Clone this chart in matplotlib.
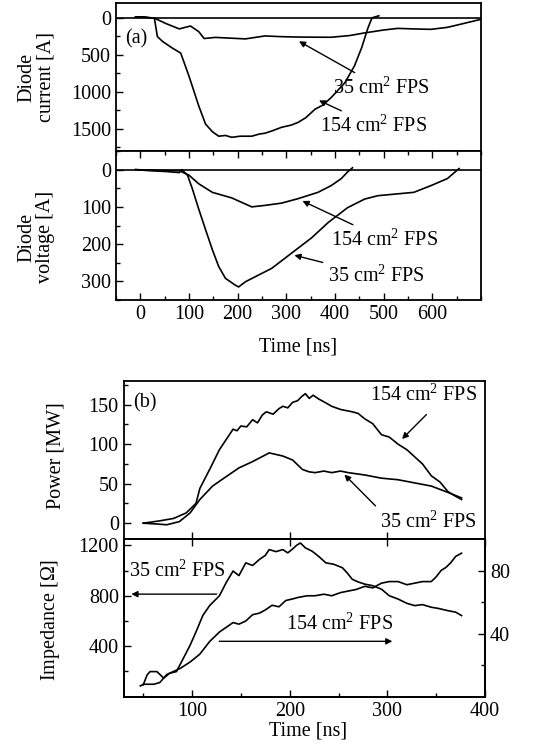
import numpy as np
import matplotlib
matplotlib.use("Agg")
from matplotlib import pyplot as plt
from matplotlib.ticker import MultipleLocator, FixedLocator

plt.rcParams['font.family'] = ['Liberation Serif', 'DejaVu Serif']
plt.rcParams['mathtext.fontset'] = 'custom'
plt.rcParams['mathtext.rm'] = 'Liberation Serif'
plt.rcParams['font.size'] = 14.5

# ---- panel (a): diode current [A]
t_i35 = [-10, 5, 29, 52, 80, 103, 120, 131, 154, 185, 216, 256, 290, 324, 360, 392,
         430, 460, 500, 529, 560, 597, 630, 651, 675, 700]
i35 = [-10, -13, 5, 76, 150, 111, 187, 280, 265, 275, 285, 245, 255, 260, 262, 263,
       240, 205, 165, 143, 150, 156, 130, 98, 60, 20]
t_i154 = [-10, 5, 29, 35, 46, 66, 83, 100, 120, 134, 148, 161, 175, 188, 205, 229, 245, 256, 270, 290,
          310, 324, 340, 359, 375, 392, 420, 440, 455, 467, 476, 490]
i154 = [-10, -13, 9, 254, 321, 410, 477, 789, 1190, 1436, 1539, 1600, 1590, 1615, 1600, 1600, 1570, 1560, 1530, 1480,
        1450, 1414, 1350, 1235, 1180, 1079, 880, 650, 400, 150, 0, -27]

# ---- panel (a): diode voltage
t_v154 = [-10, 40, 80, 100, 120, 148, 188, 229, 256, 290, 324, 365, 392, 413, 426, 436]
v154 = [0, 2, 3, 15, 38, 61, 76, 100, 96, 90, 78, 61, 43, 24, 6, -5]
t_v35 = [-10, 20, 52, 80, 85, 97, 107, 120, 134, 148, 161, 175, 195, 202, 216, 243,
         270, 311, 352, 386, 426, 461, 488, 529, 562, 597, 631, 655]
v35 = [0, 3, 5, 8, 0, 15, 52, 106, 161, 215, 260, 292, 310, 315, 301, 283,
       265, 224, 183, 142, 102, 79, 70, 65, 61, 43, 24, -3]

# ---- panel (b): power [MW]
t_p154 = [50, 67, 81, 94, 104, 108, 118, 128, 142, 146, 150, 156, 162, 167, 172, 176, 183, 189, 193, 198, 203,
          208, 212, 216, 220, 224, 230, 236, 243, 252, 264, 270, 277, 285, 294, 302, 311, 320, 328, 336, 345, 354, 362, 370, 376]
p154 = [0, 3, 6, 13, 25, 44, 68, 93, 119, 117, 123, 122, 131, 127, 137, 141, 138, 145, 148, 146, 153,
        155, 160, 164, 158, 162, 157, 153, 148, 144, 141, 139, 132, 126, 112, 109, 100, 93, 84, 75, 60, 52, 40, 34, 30]
t_p35 = [50, 64, 74, 87, 98, 108, 121, 135, 148, 162, 176, 179, 193, 203, 213, 220, 226, 235,
         243, 252, 260, 277, 294, 311, 328, 345, 362, 376]
p35 = [0, -1, -2, 2, 13, 30, 47, 59, 70, 78, 87, 89, 85, 80, 68, 65, 64, 66,
       64, 66, 64, 61, 57, 55, 51, 47, 39, 32]

# ---- panel (b): impedance, 35 cm2 on left axis [Ohm], 154 cm2 on right axis
t_z35 = [50, 54, 57, 64, 71, 77, 84, 91, 98, 104, 111, 118, 128, 135, 142, 148, 155,
         162, 169, 175, 179, 186, 193, 198, 203, 207, 211, 216, 223, 230, 237, 245, 254, 259, 264,
         270, 277, 285, 294, 302, 311, 320, 328, 336, 345, 352, 362, 370, 376]
z35 = [94, 173, 199, 199, 147, 186, 199, 303, 408, 513, 643, 722, 800, 905, 996, 960, 1061,
       1040, 1088, 1120, 1166, 1150, 1166, 1140, 1171, 1200, 1218, 1180, 1153, 1110, 1061, 1050, 1022, 980, 931,
       910, 892, 880, 852, 800, 774, 740, 722, 730, 709, 700, 682, 670, 643]
t_z154 = [47, 50, 61, 67, 74, 81, 88, 98, 108, 118, 128, 135, 142, 148, 155, 162, 169, 175, 182, 189, 196,
          203, 209, 218, 226, 235, 243, 252, 260, 268, 277, 285, 294, 302, 311, 320, 328, 336, 345, 350,
          355, 360, 365, 370, 376]
z154 = [6.8, 7.9, 7.9, 9, 14, 16, 18, 22, 27, 35, 41, 44, 47, 46, 48, 52, 53, 55, 58, 57, 61,
        62, 63, 64, 64, 65, 64, 66, 67, 68, 70, 69, 72, 73, 73, 71, 72, 73, 73, 76,
        80, 82, 85, 89, 91]

lw = 1.2
fig = plt.figure(figsize=(5.6, 7.44), dpi=100)

def style(ax):
    ax.tick_params(which='both', direction='in', top=False, right=False)
    ax.tick_params(which='major', length=5, width=1)
    ax.tick_params(which='minor', length=3, width=1)
    for s in ax.spines.values():
        s.set_linewidth(1.3)

arrow = dict(arrowstyle='-|>', color='k', lw=1.0, mutation_scale=9)

# (a) current
ax1 = fig.add_axes([116/560, 1-151/744, 365/560, 148/744])
ax1.plot(t_i35, i35, 'k', lw=lw)
ax1.plot(t_i154, i154, 'k', lw=lw)
ax1.axhline(0, color='k', lw=1.2)
ax1.set_xlim(-50, 700)
ax1.set_ylim(1800, -200)
ax1.yaxis.set_major_locator(MultipleLocator(500))
ax1.yaxis.set_minor_locator(MultipleLocator(250))
ax1.set_xticks([])
style(ax1)
ax1.set_ylabel('Diode\ncurrent [A]', linespacing=1.0)
ax1.yaxis.set_label_coords(-0.167, 0.5)
ax1.text(0.025, 0.757, '(a)', transform=ax1.transAxes, va='center')
ax1.annotate('35 cm$^2$ FPS', xy=(321, 299), xytext=(396, 945), va='center', arrowprops=arrow)
ax1.annotate('154 cm$^2$ FPS', xy=(362, 1101), xytext=(369, 1458), va='center', arrowprops=arrow)

# (a) voltage
ax2 = fig.add_axes([116/560, 1-300/744, 365/560, 149/744])
ax2.plot(t_v154, v154, 'k', lw=lw)
ax2.plot(t_v35, v35, 'k', lw=lw)
ax2.axhline(0, color='k', lw=1.2)
ax2.set_xlim(-50, 700)
ax2.set_ylim(350, -50)
ax2.xaxis.set_major_locator(FixedLocator([0, 100, 200, 300, 400, 500, 600]))
ax2.xaxis.set_minor_locator(MultipleLocator(50))
ax2.yaxis.set_major_locator(MultipleLocator(100))
ax2.yaxis.set_minor_locator(MultipleLocator(50))
style(ax2)
ax2.tick_params(which='both', top=True)
ax2.set_ylabel('Diode\nvoltage [A]', linespacing=1.0)
ax2.yaxis.set_label_coords(-0.167, 0.42)
ax2.set_xlabel('Time [ns]')
ax2.xaxis.set_label_coords(0.5, -0.255)
ax2.annotate('154 cm$^2$ FPS', xy=(328, 81), xytext=(392, 188), va='center', arrowprops=arrow)
ax2.annotate('35 cm$^2$ FPS', xy=(311, 228), xytext=(386, 286), va='center', arrowprops=arrow)

# (b) power
ax3 = fig.add_axes([123.7/560, 1-539/744, 361.3/560, 158/744])
ax3.plot(t_p154, p154, 'k', lw=lw)
ax3.plot(t_p35, p35, 'k', lw=lw)
ax3.set_xlim(30, 400)
ax3.set_ylim(-20, 180)
ax3.xaxis.set_major_locator(FixedLocator([100, 200, 300]))
ax3.set_xticklabels([])
ax3.yaxis.set_major_locator(MultipleLocator(50))
ax3.yaxis.set_minor_locator(MultipleLocator(25))
style(ax3)
ax3.set_ylabel('Power [MW]')
ax3.yaxis.set_label_coords(-0.162, 0.525)
ax3.text(0.026, 0.86, '(b)', transform=ax3.transAxes, va='center')
ax3.text(392, 163, '154 cm$^2$ FPS', ha='right', va='center')
ax3.annotate('', xy=(313, 104), xytext=(342, 140), arrowprops=arrow)
ax3.annotate('35 cm$^2$ FPS', xy=(254, 64), xytext=(392, 2), ha='right', va='center',
             arrowprops=dict(arrow, relpos=(0, 1)))

# (b) impedance
ax4 = fig.add_axes([123.7/560, 1-696.7/744, 361.3/560, 157.7/744])
ax4.plot(t_z35, z35, 'k', lw=lw)
ax4.set_xlim(30, 400)
ax4.set_ylim(0, 1250)
ax4.xaxis.set_major_locator(MultipleLocator(100))
ax4.xaxis.set_minor_locator(MultipleLocator(50))
ax4.yaxis.set_major_locator(FixedLocator([400, 800, 1200]))
ax4.yaxis.set_minor_locator(FixedLocator([200, 600, 1000]))
style(ax4)
ax4.tick_params(which='major', top=True)
ax4.set_ylabel('Impedance [$\\Omega$]')
ax4.yaxis.set_label_coords(-0.17, 0.486)
ax4.set_xlabel('Time [ns]', labelpad=0)
ax4.xaxis.set_label_coords(0.51, -0.16)
axr = ax4.twinx()
axr.plot(t_z154, z154, 'k', lw=lw)
axr.set_ylim(0, 100)
axr.yaxis.set_major_locator(FixedLocator([40, 80]))
axr.yaxis.set_minor_locator(FixedLocator([20, 60]))
axr.tick_params(which='both', direction='in')
axr.tick_params(which='major', length=5, width=1)
axr.tick_params(which='minor', length=3, width=1)
for s in axr.spines.values():
    s.set_linewidth(1.3)
ax4.text(35, 996, '35 cm$^2$ FPS', va='center')
ax4.annotate('', xy=(35, 813), xytext=(128, 813), arrowprops=arrow)
ax4.text(196, 578, '154 cm$^2$ FPS', va='center')
ax4.annotate('', xy=(308, 439), xytext=(125, 439), arrowprops=arrow)

fig.savefig('out.png', dpi=100)
